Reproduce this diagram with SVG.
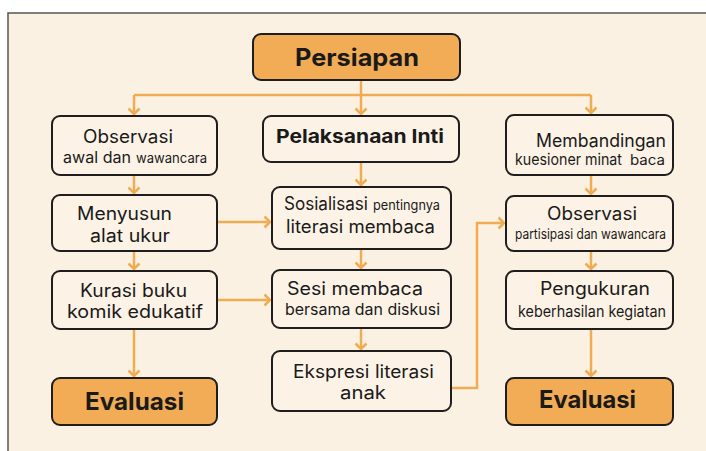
<svg xmlns="http://www.w3.org/2000/svg" width="706" height="451" viewBox="0 0 706 451">
<defs>
<style>
.bg{fill:#FBF1E3;stroke:#555;stroke-width:1.5}
.box{fill:#FCF3E6;stroke:#1E1E1E;stroke-width:2}
.obox{fill:#F2AC55;stroke:#1E1E1E;stroke-width:2}
.t{font-family:Inter,"Liberation Sans",sans-serif;fill:#1A1A1A}
.m{font-size:18px}
.s{font-size:15.5px}
.xs{font-size:14px}
.b{font-weight:700}
.c{stroke:#F0AC52;stroke-width:2.5;fill:none}
</style>
<marker id="ah" markerUnits="userSpaceOnUse" markerWidth="14" markerHeight="14" refX="7" refY="7" orient="auto" viewBox="0 0 14 14">
<path d="M1.5,1.5 L7,7 L1.5,12.5" fill="none" stroke="#F0AC52" stroke-width="2.5"/>
</marker>
</defs>
<rect width="706" height="451" fill="#ffffff"/>
<rect class="bg" x="8" y="13" width="720" height="460"/>

<g id="connectors">
<path class="c" d="M361,80 V95"/>
<path class="c" d="M134,95 H591"/>
<path class="c" d="M134,95 V114" marker-end="url(#ah)"/>
<path class="c" d="M361,95 V114" marker-end="url(#ah)"/>
<path class="c" d="M591,95 V113" marker-end="url(#ah)"/>
<path class="c" d="M134,175 V193" marker-end="url(#ah)"/>
<path class="c" d="M134,251 V269" marker-end="url(#ah)"/>
<path class="c" d="M134,329 V376" marker-end="url(#ah)"/>
<path class="c" d="M361,162 V185" marker-end="url(#ah)"/>
<path class="c" d="M361,249 V268" marker-end="url(#ah)"/>
<path class="c" d="M361,328 V349" marker-end="url(#ah)"/>
<path class="c" d="M591,175 V194" marker-end="url(#ah)"/>
<path class="c" d="M591,251 V269" marker-end="url(#ah)"/>
<path class="c" d="M591,329 V376" marker-end="url(#ah)"/>
<path class="c" d="M217,222 H270" marker-end="url(#ah)"/>
<path class="c" d="M217,300 H270" marker-end="url(#ah)"/>
<path class="c" d="M451,388 H477 V223 H504" marker-end="url(#ah)"/>
</g>

<g id="persiapan">
<rect class="obox" x="253" y="34" width="207" height="46" rx="8"/>
<text class="t b" x="357" y="66" font-size="24" text-anchor="middle" textLength="124" lengthAdjust="spacingAndGlyphs">Persiapan</text>
</g>

<g id="observasi-awal">
<rect class="box" x="52" y="116" width="165" height="59" rx="8"/>
<text class="t m" x="128" y="143" text-anchor="middle" textLength="90" lengthAdjust="spacingAndGlyphs">Observasi</text>
<text class="t s" x="63" y="163" textLength="68" lengthAdjust="spacingAndGlyphs">awal dan</text>
<text class="t xs" x="136" y="163" textLength="71" lengthAdjust="spacingAndGlyphs">wawancara</text>
</g>

<g id="menyusun">
<rect class="box" x="52" y="195" width="165" height="56" rx="8"/>
<text class="t m" x="124.5" y="220" text-anchor="middle" textLength="95" lengthAdjust="spacingAndGlyphs">Menyusun</text>
<text class="t m" x="130" y="242" text-anchor="middle" textLength="80" lengthAdjust="spacingAndGlyphs">alat ukur</text>
</g>

<g id="kurasi">
<rect class="box" x="52" y="271" width="165" height="58" rx="8"/>
<text class="t m" x="133.5" y="297" text-anchor="middle" textLength="107" lengthAdjust="spacingAndGlyphs">Kurasi buku</text>
<text class="t m" x="135" y="318" text-anchor="middle" textLength="136" lengthAdjust="spacingAndGlyphs">komik edukatif</text>
</g>

<g id="evaluasi-kiri">
<rect class="obox" x="52" y="378" width="165" height="47" rx="8"/>
<text class="t b" x="134.5" y="410" font-size="24" text-anchor="middle" textLength="99" lengthAdjust="spacingAndGlyphs">Evaluasi</text>
</g>

<g id="pelaksanaan-inti">
<rect class="box" x="263" y="116" width="196" height="46" rx="8"/>
<text class="t b" x="360" y="143" font-size="19" text-anchor="middle" textLength="168" lengthAdjust="spacingAndGlyphs">Pelaksanaan Inti</text>
</g>

<g id="sosialisasi">
<rect class="box" x="272" y="187" width="179" height="62" rx="8"/>
<text class="t m" x="284" y="210" textLength="84" lengthAdjust="spacingAndGlyphs">Sosialisasi</text>
<text class="t xs" x="373" y="210" textLength="67" lengthAdjust="spacingAndGlyphs">pentingnya</text>
<text class="t m" x="360.5" y="233" text-anchor="middle" textLength="149" lengthAdjust="spacingAndGlyphs">literasi membaca</text>
</g>

<g id="sesi-membaca">
<rect class="box" x="272" y="270" width="179" height="58" rx="8"/>
<text class="t m" x="355" y="295" text-anchor="middle" textLength="136" lengthAdjust="spacingAndGlyphs">Sesi membaca</text>
<text class="t s" x="362.5" y="315" text-anchor="middle" textLength="155" lengthAdjust="spacingAndGlyphs">bersama dan diskusi</text>
</g>

<g id="ekspresi">
<rect class="box" x="272" y="351" width="179" height="60" rx="8"/>
<text class="t m" x="363.5" y="378" text-anchor="middle" textLength="141" lengthAdjust="spacingAndGlyphs">Ekspresi literasi</text>
<text class="t m" x="363" y="399" text-anchor="middle" textLength="46" lengthAdjust="spacingAndGlyphs">anak</text>
</g>

<g id="membandingan">
<rect class="box" x="506" y="115" width="167" height="60" rx="8"/>
<text class="t m" x="601" y="147" text-anchor="middle" textLength="130" lengthAdjust="spacingAndGlyphs">Membandingan</text>
<text class="t s" x="515" y="165" textLength="107" lengthAdjust="spacingAndGlyphs">kuesioner minat</text>
<text class="t xs" x="630" y="165" textLength="35" lengthAdjust="spacingAndGlyphs">baca</text>
</g>

<g id="observasi-partisipasi">
<rect class="box" x="506" y="196" width="167" height="55" rx="8"/>
<text class="t m" x="592" y="220" text-anchor="middle" textLength="90" lengthAdjust="spacingAndGlyphs">Observasi</text>
<text class="t xs" x="590.5" y="239" text-anchor="middle" textLength="151" lengthAdjust="spacingAndGlyphs">partisipasi dan wawancara</text>
</g>

<g id="pengukuran">
<rect class="box" x="506" y="271" width="167" height="58" rx="8"/>
<text class="t m" x="595" y="295" text-anchor="middle" textLength="110" lengthAdjust="spacingAndGlyphs">Pengukuran</text>
<text class="t s" x="592" y="317" text-anchor="middle" textLength="148" lengthAdjust="spacingAndGlyphs">keberhasilan kegiatan</text>
</g>

<g id="evaluasi-kanan">
<rect class="obox" x="506" y="378" width="167" height="47" rx="8"/>
<text class="t b" x="587.5" y="408" font-size="24" text-anchor="middle" textLength="97" lengthAdjust="spacingAndGlyphs">Evaluasi</text>
</g>
</svg>
